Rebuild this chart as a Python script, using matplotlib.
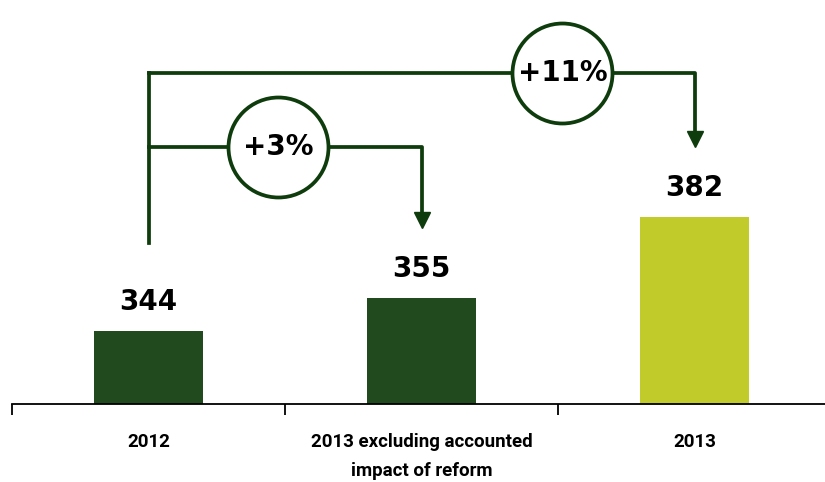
import matplotlib.pyplot as plt

# data
categories = ['2012', '2013 excluding accounted\nimpact of reform', '2013']
values = [344, 355, 382]
bar_colors = ['#214a1e', '#214a1e', '#c1cc2b']
changes = ['+3%', '+11%']

line_col = '#0e3c0c'

fig = plt.figure(figsize=(8.25, 4.82), dpi=100)
ax = fig.add_axes([12 / 825, 78 / 482, 819 / 825, 404 / 482])

x = list(range(len(values)))
ax.bar(x, values, width=0.40, color=bar_colors, zorder=2)
ax.set_xlim(-0.5, 2.5)
ax.set_ylim(319.7, 454.4)

# value labels
for xi, v in zip(x, values):
    ax.annotate(str(v), (xi, v), xytext=(0, 11), textcoords='offset points',
                ha='center', va='bottom', fontsize=20, fontweight='bold',
                family='DejaVu Sans')

# axes styling
for s in ['top', 'left', 'right']:
    ax.spines[s].set_visible(False)
ax.spines['bottom'].set_linewidth(1.3)
ax.set_yticks([])
ax.set_xticks([-0.5, 0.5, 1.5, 2.5])
ax.set_xticklabels([])
ax.tick_params(axis='x', which='major', length=8, width=1.3)
ax.set_xticks(x, minor=True)
ax.set_xticklabels(categories, minor=True, fontsize=13.5, fontweight='bold',
                   family='Roboto', linespacing=1.75)
ax.tick_params(axis='x', which='minor', length=0, pad=21)

# growth brackets
lw = 2.7
top_y = values[2] + 48          # bracket to 2013
mid_y = values[1] + 50.4        # bracket to 2013 excl. reform
stem_y = values[0] + 29.4
ax.plot([0, 0], [stem_y, top_y], color=line_col, lw=lw, zorder=3)
ax.plot([0, 2, 2], [top_y, top_y, values[2] + 28], color=line_col, lw=lw, zorder=3)
ax.plot([0, 1, 1], [mid_y, mid_y, values[1] + 28], color=line_col, lw=lw, zorder=3)
ax.plot([1], [values[1] + 26], marker='v', ms=12, color=line_col, zorder=4)
ax.plot([2], [values[2] + 26], marker='v', ms=12, color=line_col, zorder=4)

circ_x = [0.476, 1.516]
circ_y = [mid_y, top_y]
ax.scatter(circ_x, circ_y, s=72 ** 2, facecolor='white', edgecolor=line_col,
           linewidth=lw, zorder=5)
for cx, cy, t in zip(circ_x, circ_y, changes):
    ax.text(cx, cy, t, ha='center', va='center', fontsize=20,
            fontweight='bold', family='DejaVu Sans', zorder=6)

fig.savefig('out.png', dpi=100)
